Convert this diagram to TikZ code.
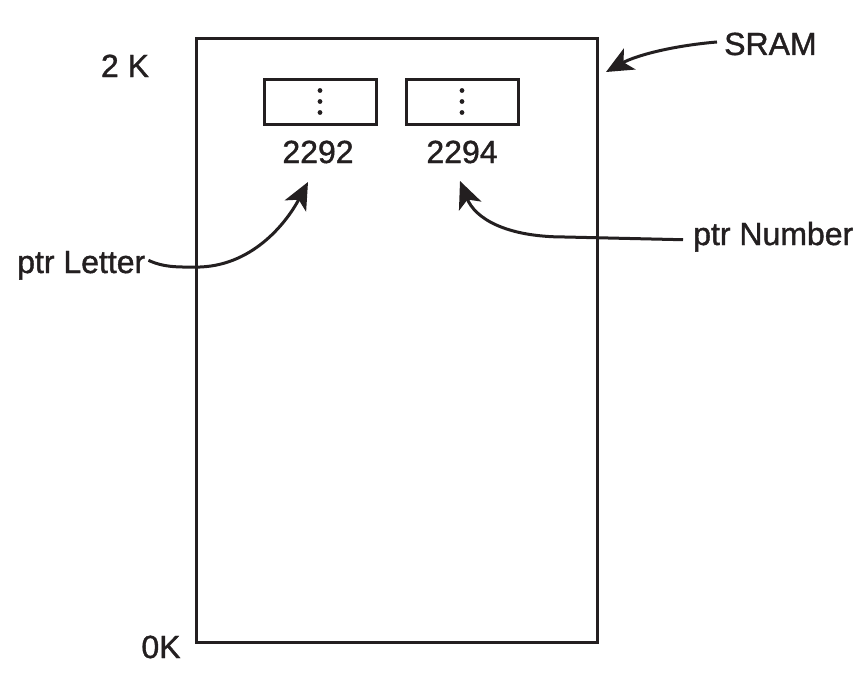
\documentclass[tikz,border=0pt]{standalone}
\usepackage{fontspec}
\setmainfont[FakeBold=1.2]{Liberation Sans}
\usetikzlibrary{arrows.meta}
\definecolor{ink}{HTML}{231F20}
\begin{document}
\begin{tikzpicture}[x=1pt,y=-1pt,
  lbl/.style={inner sep=0pt, text=ink, font=\fontsize{32}{38}\selectfont},
  frame/.style={draw=ink, line width=3.2pt, inner sep=0pt},
  cellbox/.style={draw=ink, line width=3pt, inner sep=0pt, minimum width=112pt, minimum height=45pt},
  ptr/.style={draw=ink, line width=3pt, -{Stealth[length=27pt,width=24pt,inset=7pt]}}
]
\useasboundingbox[fill=white] (0,0) rectangle (858,677);
% SRAM block
\node[frame, minimum width=401pt, minimum height=604pt, anchor=north west] (sram) at (195,37) {};
% cells
\node[cellbox] (c1) at (320,101.5) {};
\node[cellbox] (c2) at (462,101.5) {};
\foreach \c in {c1,c2}{
  \fill[ink] ([yshift=-11pt]\c.center) circle (2.4pt);
  \fill[ink] (\c.center) circle (2.4pt);
  \fill[ink] ([yshift=11pt]\c.center) circle (2.4pt);
}
% labels
\node[lbl, anchor=base] (a1) at (318,163) {2292};
\node[lbl, anchor=base] (a2) at (462,163) {2294};
\node[lbl, anchor=base] (top) at (125,77) {2 K};
\node[lbl, anchor=base] (bot) at (161,658) {0K};
\node[lbl, anchor=base west] (sl) at (724,55) {SRAM};
\node[lbl, anchor=base west] (pl) at (17,273) {ptr Letter};
\node[lbl, anchor=base west] (pn) at (693,245) {ptr Number};
% arrow targets
\coordinate (tS) at (606,72);
\coordinate (tL) at (308,182);
\coordinate (tN) at (460,181);
% connectors
\draw[ptr] ([xshift=-7pt,yshift=2pt]sl.west) .. controls (670,46) and (635,56) .. (tS);
\draw[ptr] ([xshift=3pt,yshift=5pt]pl.east) .. controls (165,268) and (180,267) .. (200,267)
  .. controls (255,265) and (288,220) .. (tL);
\draw[ptr] ([xshift=-10pt,yshift=-3pt]pn.west) -- (565,237) .. controls (505,237) and (475,218) .. (tN);
\end{tikzpicture}
\end{document}
